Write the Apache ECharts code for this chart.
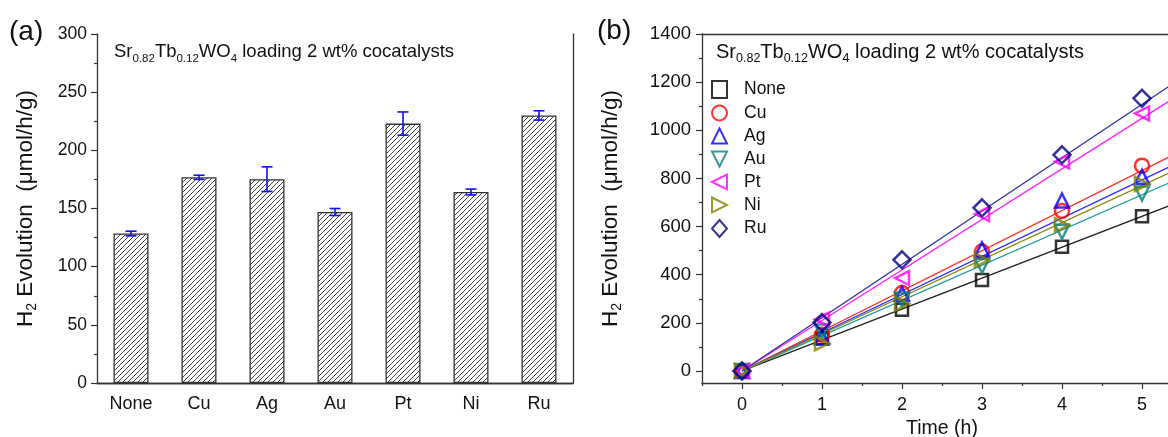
<!DOCTYPE html>
<html><head><meta charset="utf-8">
<script src="https://cdn.jsdelivr.net/npm/echarts@6/dist/echarts.min.js"></script>
<style>html,body{margin:0;padding:0;background:#fff}#c{width:1168px;height:437px}</style>
</head><body><div id="c"></div>
<script>
// ---- Panel (a) data ----
const catalysts = ['None', 'Cu', 'Ag', 'Au', 'Pt', 'Ni', 'Ru'];
const rates = [128.5, 176.8, 175.2, 147.0, 223.0, 164.2, 230.0];
const rateErrors = [2.0, 1.8, 10.6, 3.0, 10.0, 2.5, 4.0];

// ---- Panel (b) data ----
const times = [0, 1, 2, 3, 4, 5];
const evoNone = [0, 135, 254, 378, 516, 643];
const evoCu = [0, 150, 324, 496, 665, 853];
const evoAg = [0, 140, 321, 505, 708, 807];
const evoAu = [0, 164, 296, 436, 578, 737];
const evoPt = [0, 214, 386, 652, 870, 1070];
const evoNi = [0, 115, 279, 461, 606, 777];
const evoRu = [0, 201, 462, 678, 898, 1133];
// fitted lines: value at t = 0 and at t = 5.33 (right edge)
const fitT = [0, 5.33];
const fitNone = [0, 685];
const fitCu = [0, 888];
const fitAg = [0, 846];
const fitAu = [0, 780];
const fitPt = [0, 1119];
const fitNi = [0, 821];
const fitRu = [0, 1181];
const xLabelsB = [0, 1, 2, 3, 4, 5];
const xMinorB = [-0.5, 0.5, 1.5, 2.5, 3.5, 4.5, 5.5];
const yLabelsB = [0, 200, 400, 600, 800, 1000, 1200, 1400];
const yMinorB = [100, 300, 500, 700, 900, 1100, 1300];

const FONT = 'Liberation Sans, Arial, sans-serif';
const AX = '#333';

const TRI_UP = 'path://M5,0 L10,10 L0,10 Z';
const TRI_DOWN = 'path://M0,0 L10,0 L5,10 Z';
const TRI_LEFT = 'path://M0,5 L10,0 L10,10 Z';
const TRI_RIGHT = 'path://M0,0 L10,5 L0,10 Z';

// hatch pattern
const pat = document.createElement('canvas');
const S = 5; pat.width = S; pat.height = S;
const pc = pat.getContext('2d');
pc.fillStyle = '#fff'; pc.fillRect(0, 0, S, S);
pc.strokeStyle = '#444'; pc.lineWidth = 1;
pc.beginPath();
pc.moveTo(-1, S + 1); pc.lineTo(S + 1, -1);
pc.moveTo(-1, 1); pc.lineTo(1, -1);
pc.moveTo(S - 1, S + 1); pc.lineTo(S + 1, S - 1);
pc.stroke();

const chart = echarts.init(document.getElementById('c'), null, {renderer: 'canvas'});

const pair = (xs, ys) => xs.map((x, i) => [x, ys[i]]);

const groups = [
  {name: 'None', data: evoNone, fit: fitNone, symbol: 'rect', color: '#000000', line: '#222222', size: 12},
  {name: 'Cu', data: evoCu, fit: fitCu, symbol: 'circle', color: '#ff0000', line: '#ff2a2a', size: 14},
  {name: 'Ag', data: evoAg, fit: fitAg, symbol: TRI_UP, color: '#0000ff', line: '#2a2aff', size: 14},
  {name: 'Au', data: evoAu, fit: fitAu, symbol: TRI_DOWN, color: '#008080', line: '#1a9a9a', size: 14},
  {name: 'Pt', data: evoPt, fit: fitPt, symbol: TRI_LEFT, color: '#ff00ff', line: '#ff22ff', size: 14},
  {name: 'Ni', data: evoNi, fit: fitNi, symbol: TRI_RIGHT, color: '#808000', line: '#8a8a10', size: 14},
  {name: 'Ru', data: evoRu, fit: fitRu, symbol: 'diamond', color: '#000080', line: '#333399', size: 17}
];

const mkRich = (f, fs) => ({
  n: {fontSize: f, fontFamily: FONT, fontWeight: 'normal', color: '#111', lineHeight: 22},
  s: {fontSize: fs, fontFamily: FONT, fontWeight: 'normal', color: '#111', lineHeight: 22, padding: [13, 0, 0, 0]}
});
const titleText = '{n|Sr}{s|0.82}{n|Tb}{s|0.12}{n|WO}{s|4}{n| loading 2 wt% cocatalysts}';
const yName = 'H{sub|2} Evolution  (\u03bcmol/h/g)';

const series = [];
series.push({
  type: 'bar', xAxisIndex: 0, yAxisIndex: 0, data: rates, barWidth: 35,
  itemStyle: {color: {image: pat, repeat: 'repeat'}, borderColor: '#333', borderWidth: 1.3},
  silent: true, z: 2
});
series.push({
  type: 'custom', xAxisIndex: 0, yAxisIndex: 0, z: 5,
  data: rates.map((v, i) => [i, v, rateErrors[i]]),
  renderItem: function (params, api) {
    const i = api.value(0), v = api.value(1), e = api.value(2);
    const top = api.coord([i, v + e]);
    const bot = api.coord([i, v - e]);
    const hw = 5.5;
    const st = {stroke: '#1010ee', lineWidth: 1.6};
    return {type: 'group', children: [
      {type: 'line', shape: {x1: top[0], y1: top[1], x2: bot[0], y2: bot[1]}, style: st},
      {type: 'line', shape: {x1: top[0] - hw, y1: top[1], x2: top[0] + hw, y2: top[1]}, style: st},
      {type: 'line', shape: {x1: bot[0] - hw, y1: bot[1], x2: bot[0] + hw, y2: bot[1]}, style: st}
    ]};
  }
});
groups.forEach(g => {
  series.push({
    type: 'line', xAxisIndex: 2, yAxisIndex: 2, data: pair(fitT, g.fit),
    showSymbol: false, symbol: 'none', silent: true, z: 2,
    lineStyle: {color: g.line, width: 1.3}
  });
});
groups.forEach(g => {
  series.push({
    type: 'scatter', name: g.name, xAxisIndex: 2, yAxisIndex: 2, data: pair(times, g.data),
    symbol: g.symbol, symbolSize: g.size, z: 4,
    itemStyle: {color: 'rgba(255,255,255,0)', borderColor: g.color, borderWidth: 2.5}
  });
});

const numFmt = v => String(v);
const nameStyle = {fontSize: 22.5, color: '#111', fontFamily: FONT,
  rich: {sub: {fontSize: 14, color: '#111', fontFamily: FONT, padding: [13, 0, 0, 0]}}};

const option = {
  animation: false,
  backgroundColor: '#fff',
  textStyle: {fontFamily: FONT},
  title: [
    {text: titleText, left: 109, top: 36, textStyle: {fontWeight: 'normal', rich: mkRich(18.5, 11.5)}},
    {text: titleText, left: 711, top: 36, textStyle: {fontWeight: 'normal', rich: mkRich(20, 12.5)}}
  ],
  legend: {
    data: groups.map(g => ({name: g.name, icon: g.symbol})), orient: 'vertical', left: 706, top: 75,
    itemGap: 5, itemWidth: 15, itemHeight: 17, selectedMode: false,
    textStyle: {fontSize: 17.5, fontFamily: FONT, color: '#111', padding: [0, 0, 0, 12]}
  },
  graphic: [
    {type: 'text', left: 9, top: 18, style: {text: '(a)', font: '28px ' + FONT, fill: '#111'}},
    {type: 'text', left: 597, top: 17, style: {text: '(b)', font: '28px ' + FONT, fill: '#111'}}
  ],
  grid: [
    {left: 97, top: 34, width: 476, height: 349, outerBoundsMode: 'none'},
    {left: 702, top: 34, width: 480, height: 349, outerBoundsMode: 'none'}
  ],
  xAxis: [
    {type: 'category', gridIndex: 0, data: catalysts, position: 'bottom',
      axisLine: {lineStyle: {color: AX, width: 1.3}}, axisTick: {show: false},
      axisLabel: {fontSize: 18, color: '#111', margin: 12, fontFamily: FONT}},
    {type: 'category', gridIndex: 0, data: catalysts, position: 'top',
      axisLine: {lineStyle: {color: AX, width: 1.3}}, axisTick: {show: false}, axisLabel: {show: false}},
    {type: 'value', gridIndex: 1, min: -0.5, max: 5.5, position: 'bottom',
      name: 'Time (h)', nameLocation: 'middle', nameGap: 35,
      nameTextStyle: {fontSize: 19.5, color: '#111', fontFamily: FONT},
      axisLine: {onZero: false, lineStyle: {color: AX, width: 1.3}},
      axisTick: {show: true, inside: false, length: 6, customValues: xLabelsB, lineStyle: {color: AX, width: 1.2}},
      axisLabel: {customValues: xLabelsB, formatter: numFmt, fontSize: 18, color: '#111', margin: 13, fontFamily: FONT},
      splitLine: {show: false}},
    {type: 'value', gridIndex: 1, min: -0.5, max: 5.5, position: 'bottom',
      axisLine: {show: false, onZero: false},
      axisTick: {show: true, inside: false, length: 3, customValues: xMinorB, lineStyle: {color: AX, width: 1.2}},
      axisLabel: {show: false}, splitLine: {show: false}},
    {type: 'value', gridIndex: 1, min: -0.5, max: 5.5, position: 'top',
      axisLine: {onZero: false, lineStyle: {color: AX, width: 1.3}}, axisTick: {show: false}, axisLabel: {show: false}, splitLine: {show: false}}
  ],
  yAxis: [
    {type: 'value', gridIndex: 0, min: 0, max: 300, interval: 50, position: 'left',
      name: yName, nameLocation: 'middle', nameGap: 58, nameTextStyle: nameStyle,
      axisLine: {show: true, onZero: false, lineStyle: {color: AX, width: 1.3}},
      axisTick: {show: true, length: 6, lineStyle: {color: AX, width: 1.2}},
      minorTick: {show: true, splitNumber: 2, length: 3, lineStyle: {color: AX, width: 1.2}},
      axisLabel: {fontSize: 17.5, color: '#111', margin: 10, fontFamily: FONT},
      splitLine: {show: false}},
    {type: 'value', gridIndex: 0, min: 0, max: 300, position: 'right',
      axisLine: {show: true, onZero: false, lineStyle: {color: AX, width: 1.3}}, axisTick: {show: false}, axisLabel: {show: false}, splitLine: {show: false}},
    {type: 'value', gridIndex: 1, min: -50, max: 1400, position: 'left',
      name: yName, nameLocation: 'middle', nameGap: 78, nameTextStyle: nameStyle,
      axisLine: {show: true, onZero: false, lineStyle: {color: AX, width: 1.3}},
      axisTick: {show: true, length: 6, customValues: yLabelsB, lineStyle: {color: AX, width: 1.2}},
      axisLabel: {customValues: yLabelsB, formatter: numFmt, fontSize: 18.5, color: '#111', margin: 11, fontFamily: FONT},
      splitLine: {show: false}},
    {type: 'value', gridIndex: 1, min: -50, max: 1400, position: 'left',
      axisLine: {show: false, onZero: false},
      axisTick: {show: true, length: 3, customValues: yMinorB, lineStyle: {color: AX, width: 1.2}},
      axisLabel: {show: false}, splitLine: {show: false}}
  ],
  series: series
};
chart.setOption(option);
</script></body></html>
